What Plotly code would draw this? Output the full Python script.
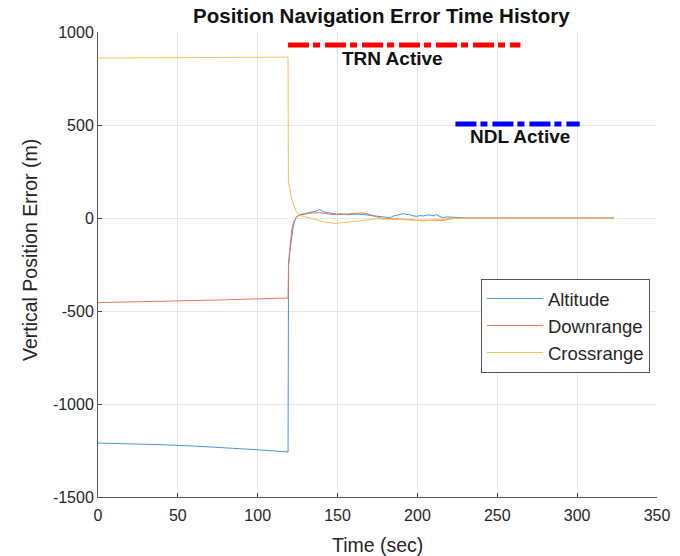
import plotly.graph_objects as go

# ---- data ----
alt_t = [0, 20, 40, 60, 80, 100, 119, 119.3, 120.1, 121.2, 122.2, 123.3, 124.3, 126.4, 128.5,
         130.6, 132.7, 134.7, 136.8, 138.9, 140.5, 142.1, 143.6, 145.2, 147.3, 149.4, 151.5,
         153.5, 155.6, 157.7, 159.8, 161.9, 164, 166, 168, 170.2, 172.3, 174.4, 176.5, 178.5,
         180.6, 182.7, 184.8, 186.9, 189, 191.1, 193.1, 195.2, 197.3, 199.4, 201.5, 203.6,
         205.7, 207.8, 209.9, 211.9, 214, 216.1, 218.2, 220.3, 222.4, 224.4, 226.5, 228.6,
         232.8, 250, 270, 290, 323]
alt_v = [-1210, -1214, -1219, -1226, -1235, -1246, -1258, -260, -180, -100, -50, -12, 5, 18, 22,
         27, 30, 32, 38, 45, 36, 32, 28, 27, 24, 21, 23,
         20, 18, 18, 21, 22, 19, 20, 17, 14, 12, 9, 6, 4,
         2, 2, 10, 14, 20, 23, 19, 18, 12, 9, 13, 11,
         15, 16, 12, 18, 8, 2, 6, 5, 3, 0, 2, 1,
         0, 1, 0, 0, 0]

dr_t = [0, 20, 40, 60, 80, 100, 119, 119.3, 120.1, 121.2, 122.2, 123.3, 124.3, 126.4, 128.5,
        130.6, 132.7, 134.7, 136.8, 138.9, 142.1, 145.2, 149.4, 153.5, 157.7, 161.9, 166,
        170.2, 174.4, 178.5, 182.7, 186.9, 191.1, 195.2, 199.4, 203.6, 207.8, 211.9, 216.1,
        220.3, 224.4, 228.6, 240, 323]
dr_v = [-455, -452, -448, -444, -440, -435, -430, -240, -150, -70, -30, -5, 8, 16, 20,
        24, 26, 27, 28, 29, 25, 20, 18, 20, 22, 25, 27,
        18, 9, -4, -3, -4, -8, -9, -12, -12, -9, -12, -12,
        -5, -3, 0, 0, 0]

cr_t = [0, 30, 60, 90, 119, 119.2, 120.1, 121.2, 122.2, 123.3, 124.3, 126.4, 128.5, 130.6,
        132.7, 134.7, 136.8, 138.9, 142.1, 145.2, 149.4, 153.5, 157.7, 161.9, 166, 170.2,
        174.4, 178.5, 182.7, 186.9, 191.1, 195.2, 199.4, 203.6, 207.8, 211.9, 216.1, 220.3,
        224.4, 228.6, 240, 323]
cr_v = [860, 862, 863, 864, 865, 200, 149, 105, 77, 50, 32, 14, 9, 5,
        0, -4, -10, -16, -22, -25, -30, -25, -21, -18, -16, -9,
        -4, -5, -4, -5, -7, -10, -13, -16, -13, -9, -7, -4,
        -2, 0, 0, 0]

trn_t = [119, 264.5]
trn_v = [930, 930]
ndl_t = [223.8, 301.6]
ndl_v = [505, 505]

x_ticks = [0, 50, 100, 150, 200, 250, 300, 350]
x_labels = ["0", "50", "100", "150", "200", "250", "300", "350"]
y_ticks = [-1500, -1000, -500, 0, 500, 1000]
y_labels = ["-1500", "-1000", "-500", "0", "500", "1000"]

FONT = "Liberation Sans, Arial, sans-serif"
TXT = "#262626"

fig = go.Figure()
fig.add_trace(go.Scatter(x=alt_t, y=alt_v, mode="lines", name="Altitude",
                         line=dict(color="#4a96d4", width=1)))
fig.add_trace(go.Scatter(x=dr_t, y=dr_v, mode="lines", name="Downrange",
                         line=dict(color="#e57a55", width=1)))
fig.add_trace(go.Scatter(x=cr_t, y=cr_v, mode="lines", name="Crossrange",
                         line=dict(color="#f2c458", width=1)))
fig.add_trace(go.Scatter(x=trn_t, y=trn_v, mode="lines", showlegend=False,
                         line=dict(color="#ff0000", width=5, dash="21px,4px,7px,5px")))
fig.add_trace(go.Scatter(x=ndl_t, y=ndl_v, mode="lines", showlegend=False,
                         line=dict(color="#0000ff", width=5, dash="21px,4px,7px,5px")))

fig.add_annotation(x=184.3, y=858, text="<b>TRN Active</b>", showarrow=False,
                   font=dict(family=FONT, size=19, color="#111111"))
fig.add_annotation(x=264, y=437, text="<b>NDL Active</b>", showarrow=False,
                   font=dict(family=FONT, size=19, color="#111111"))

# axis titles placed as annotations (paper coords relative to plot area 98..657 x 32..497)
fig.add_annotation(x=(377 - 98) / 559, y=-(545 - 497) / 465, xref="paper", yref="paper",
                   text="Time (sec)", showarrow=False, xanchor="center", yanchor="middle",
                   font=dict(family=FONT, size=19.5, color=TXT))
fig.add_annotation(x=(30 - 98) / 559, y=(497 - 250) / 465, xref="paper", yref="paper",
                   text="Vertical Position Error (m)", showarrow=False, textangle=-90,
                   xanchor="center", yanchor="middle",
                   font=dict(family=FONT, size=19.5, color=TXT))

fig.update_layout(
    width=680, height=556,
    margin=dict(l=98, r=23, t=32, b=59, autoexpand=False),
    paper_bgcolor="white", plot_bgcolor="white",
    font=dict(family=FONT, color=TXT),
    title=dict(text="<b>Position Navigation Error Time History</b>",
               x=0.507, xref="paper", y=1 - 16 / 556, yref="container",
               xanchor="center", yanchor="middle",
               font=dict(family=FONT, size=20.5, color="#111111")),
    xaxis=dict(range=[0, 350], tickvals=x_ticks, ticktext=x_labels, ticks="inside", ticklen=4,
               tickcolor="#444", showline=True, linecolor="#555", linewidth=1,
               showgrid=True, gridcolor="#e6e6e6", zeroline=False, automargin=False,
               ticklabelstandoff=4,
               tickfont=dict(size=16, color=TXT)),
    yaxis=dict(range=[-1500, 1000], tickvals=y_ticks, ticktext=y_labels, ticks="inside", ticklen=4,
               tickcolor="#444", showline=True, linecolor="#555", linewidth=1,
               showgrid=True, gridcolor="#e6e6e6", zeroline=False, automargin=False,
               tickfont=dict(size=16, color=TXT)),
    legend=dict(x=0.685, y=0.469, xanchor="left", yanchor="top",
                bgcolor="white", bordercolor="#555", borderwidth=1,
                itemwidth=56,
                font=dict(size=18.5, color=TXT)),
)

fig.write_html("out.html")
